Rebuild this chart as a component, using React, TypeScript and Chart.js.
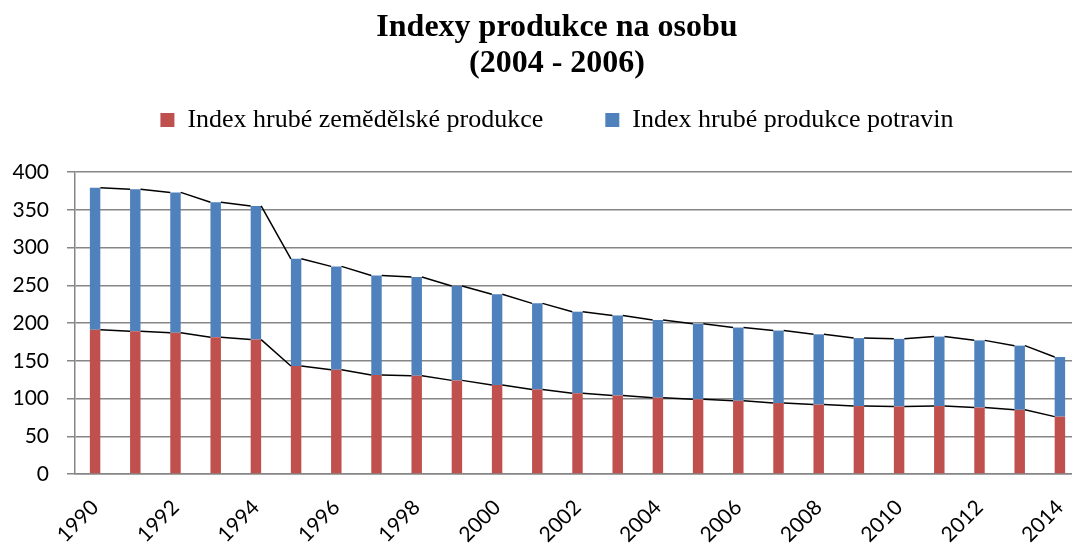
import React, { useEffect, useRef } from 'react';
import { Chart, registerables } from 'chart.js';

Chart.register(...registerables);

const years = ['1990', '1991', '1992', '1993', '1994', '1995', '1996', '1997', '1998', '1999', '2000', '2001', '2002', '2003', '2004', '2005', '2006', '2007', '2008', '2009', '2010', '2011', '2012', '2013', '2014'];
const agriIndex = [191, 189, 187, 181, 178, 143, 138, 131, 130, 124, 118, 112, 107, 104, 101, 99, 97, 94, 92, 90, 89.5, 90, 88, 85, 76];
const foodIndex = [188, 188, 186, 179, 177, 142, 137, 132, 131, 125, 120, 114, 108, 106, 103, 100, 97, 96, 93, 90, 89.5, 92, 89, 85, 79];
const seriesNames = ['Index hrubé zemědělské produkce', 'Index hrubé produkce potravin'];
const titleLines = ['Indexy produkce na osobu', '(2004 - 2006)'];
const yMin = 0;
const yMax = 400;
const yStep = 50;

const seriesLines = {
  id: 'seriesLines',
  afterDatasetsDraw(chart: any) {
    const ctx = chart.ctx;
    ctx.save();
    ctx.strokeStyle = '#000000';
    ctx.lineWidth = 1.5;
    chart.data.datasets.forEach((_: any, d: number) => {
      const els = chart.getDatasetMeta(d).data;
      ctx.beginPath();
      for (let i = 0; i < els.length - 1; i++) {
        const a = els[i];
        const b = els[i + 1];
        ctx.moveTo(a.x + a.width / 2, a.y);
        ctx.lineTo(b.x - b.width / 2, b.y);
      }
      ctx.stroke();
    });
    ctx.restore();
  },
};

export default function App() {
  const ref = useRef<HTMLCanvasElement | null>(null);

  useEffect(() => {
    if (!ref.current) return;
    const gridColor = '#868686';
    const tickFont = { family: 'Lato', size: 21 };
    const chart = new Chart(ref.current, {
      type: 'bar',
      data: {
        labels: years,
        datasets: [
          {
            label: seriesNames[0],
            data: agriIndex,
            backgroundColor: '#C0504D',
            borderWidth: 0,
            categoryPercentage: 1,
            barPercentage: 0.26,
          },
          {
            label: seriesNames[1],
            data: foodIndex,
            backgroundColor: '#4F81BD',
            borderWidth: 0,
            categoryPercentage: 1,
            barPercentage: 0.26,
          },
        ],
      },
      options: {
        responsive: false,
        animation: false,
        devicePixelRatio: 1,
        layout: { padding: 0 },
        plugins: {
          title: {
            display: true,
            text: titleLines,
            color: '#000000',
            font: { family: 'Liberation Serif', size: 32, weight: 'bold', lineHeight: 1.125 },
            padding: { top: 10, bottom: -37 },
          },
          legend: {
            display: true,
            position: 'top',
            labels: {
              boxWidth: 14,
              boxHeight: 14,
              padding: 62,
              color: '#000000',
              font: { family: 'Liberation Serif', size: 26 },
            },
          },
          tooltip: { enabled: false },
        },
        scales: {
          x: {
            stacked: true,
            position: 'bottom',
            grid: { display: false, drawTicks: false },
            border: { display: true, color: gridColor, width: 1.5 },
            ticks: {
              autoSkip: false,
              minRotation: 45,
              maxRotation: 45,
              padding: 21,
              color: '#000000',
              font: tickFont,
              callback: (_v: any, i: number) => (i % 2 === 0 ? years[i] : ''),
            },
            afterFit: (s: any) => {
              s.height = 71;
            },
          },
          xTop: {
            type: 'category',
            position: 'top',
            display: true,
            grid: { display: false, drawTicks: false },
            border: { display: false },
            ticks: { display: false },
            afterFit: (s: any) => {
              s.height = 29;
            },
          },
          y: {
            stacked: true,
            min: yMin,
            max: yMax,
            ticks: {
              stepSize: yStep,
              padding: 18,
              color: '#000000',
              font: tickFont,
            },
            grid: { color: gridColor, lineWidth: 1.5, tickLength: 8, drawTicks: true },
            border: { display: true, color: gridColor, width: 1.5 },
            afterFit: (s: any) => {
              s.width = 75;
            },
          },
          yRight: {
            type: 'linear',
            position: 'right',
            display: true,
            grid: { display: false, drawTicks: false },
            border: { display: false },
            ticks: { display: false },
            afterFit: (s: any) => {
              s.width = 34;
            },
          },
        },
      } as any,
      plugins: [seriesLines],
    });
    return () => chart.destroy();
  }, []);

  return (
    <div
      style={{
        position: 'fixed',
        left: 0,
        top: 0,
        width: 1072,
        height: 545,
        overflow: 'hidden',
        background: '#ffffff',
      }}
    >
      <canvas ref={ref} width={1114} height={545} style={{ display: 'block', width: 1114, height: 545 }} />
    </div>
  );
}
